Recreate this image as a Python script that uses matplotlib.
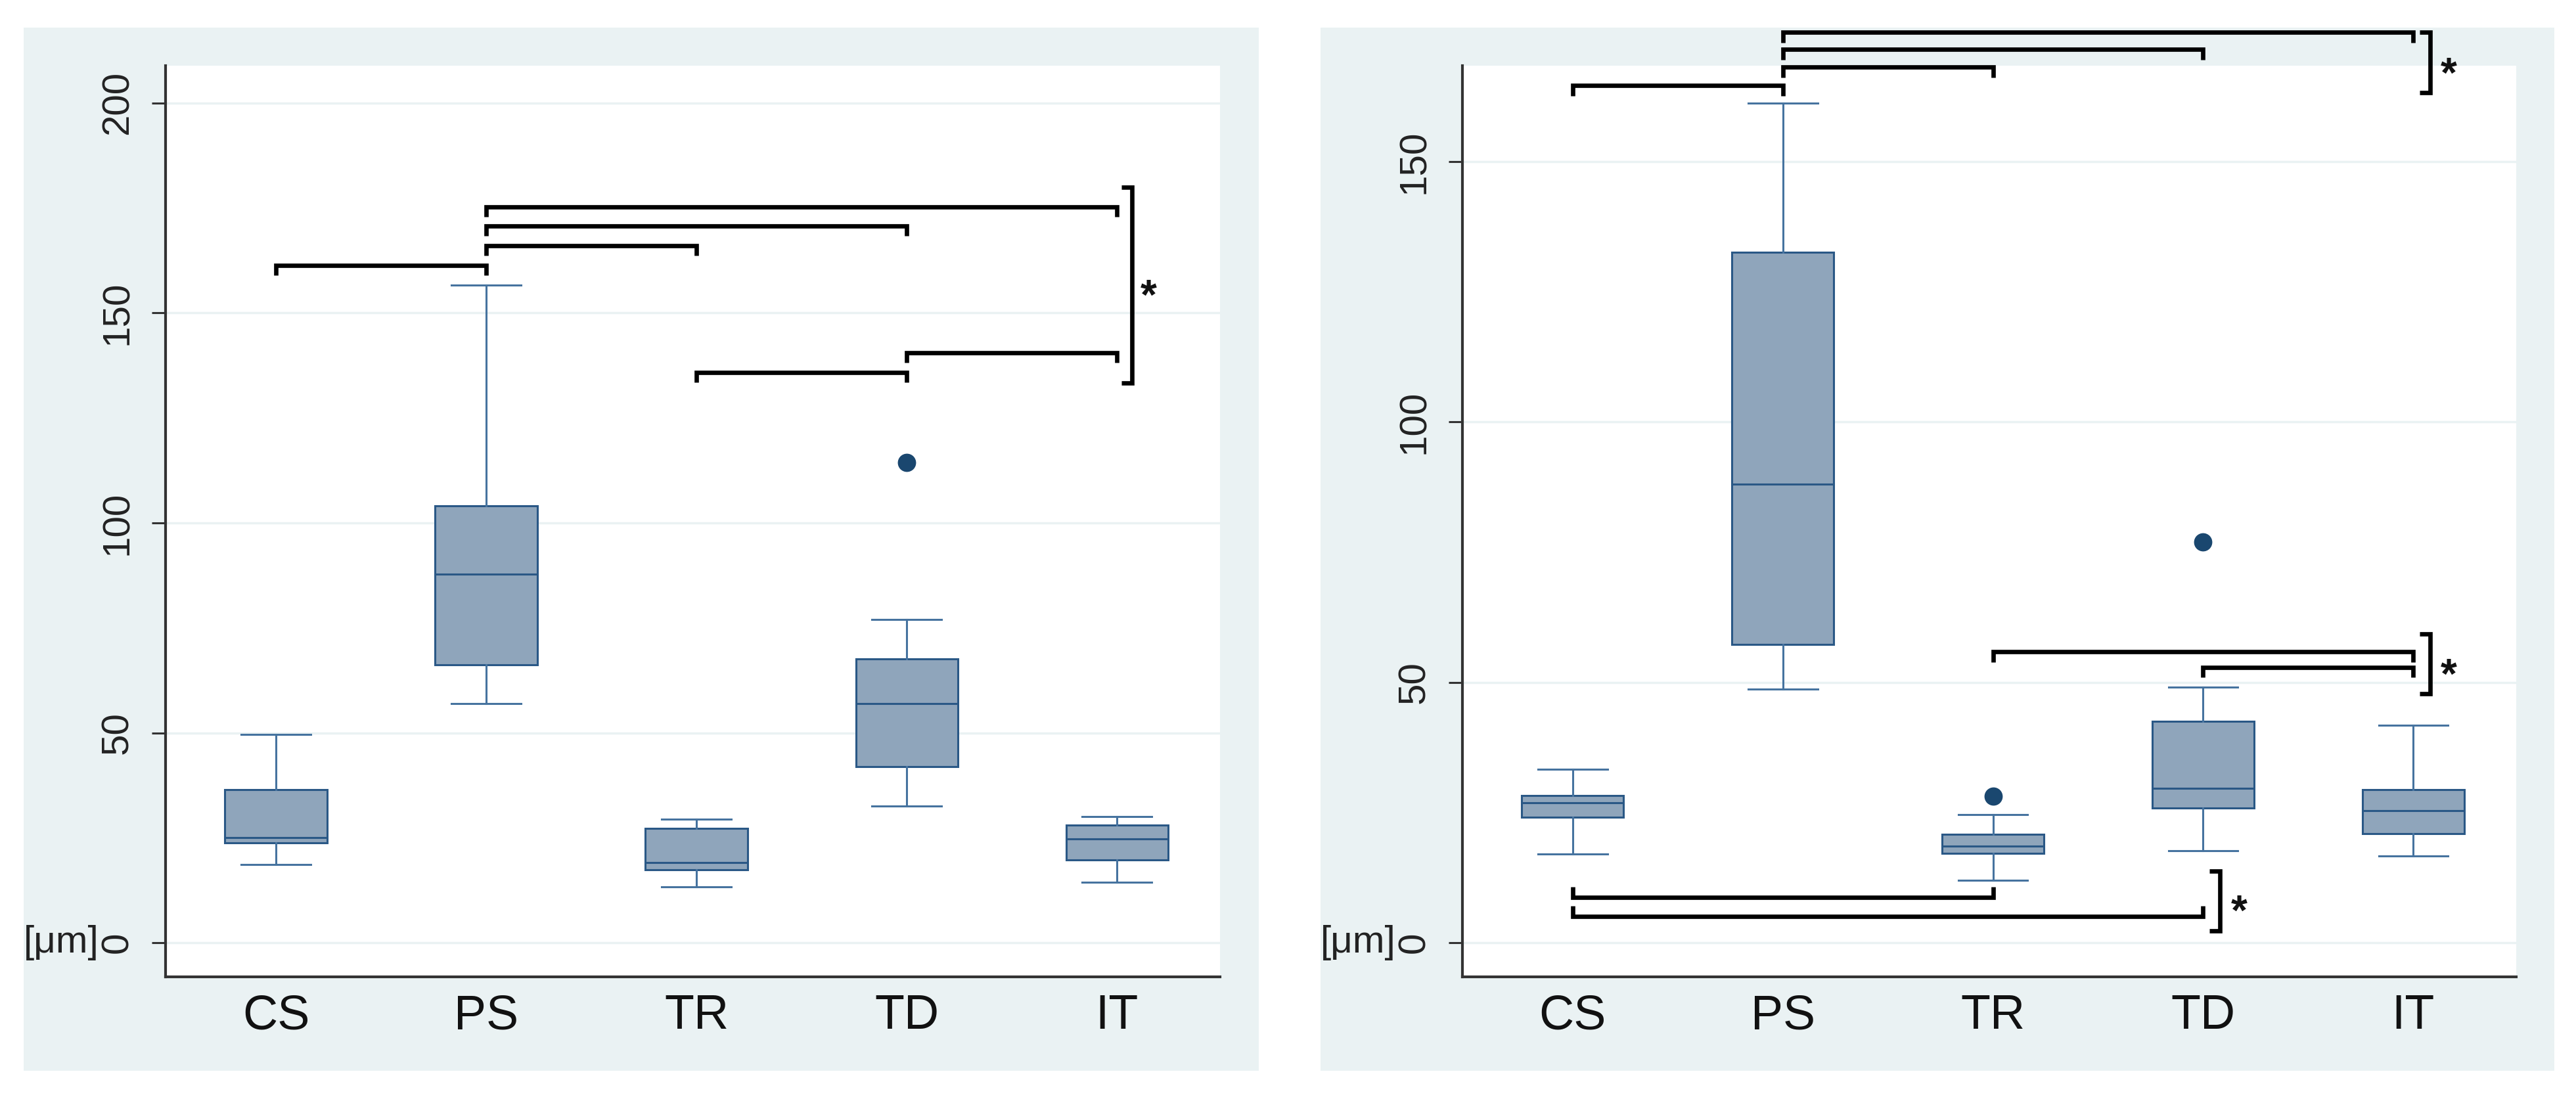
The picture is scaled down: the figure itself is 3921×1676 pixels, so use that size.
import matplotlib
matplotlib.use("Agg")
import matplotlib.pyplot as plt
from matplotlib.patches import Rectangle
import matplotlib.transforms as mtransforms

plt.rcParams['font.family'] = ['Liberation Sans', 'DejaVu Sans']

# ---------------- data ----------------
groups = ["CS", "PS", "TR", "TD", "IT"]

left_whislo = [18.6, 57.0, 13.4, 32.5, 14.4]
left_q1     = [23.8, 66.2, 17.4, 41.9, 19.8]
left_med    = [25.1, 87.8, 19.1, 57.0, 24.8]
left_q3     = [36.5, 104.0, 27.3, 67.7, 28.0]
left_whishi = [49.6, 156.6, 29.5, 77.0, 30.0]
left_fliers = [[], [], [], [114.4], []]

right_whislo = [17.0, 48.7, 12.0, 17.6, 16.7]
right_q1     = [24.1, 57.2, 17.1, 25.8, 20.9]
right_med    = [26.8, 88.0, 18.5, 29.6, 25.4]
right_q3     = [28.3, 132.6, 20.8, 42.5, 29.4]
right_whishi = [33.3, 161.2, 24.6, 49.1, 41.7]
right_fliers = [[], [], [28.1], [77.0], []]

left_yticks = [0, 50, 100, 150, 200]
right_yticks = [0, 50, 100, 150]

# significance brackets: (group_i, group_j, height)
left_pairs = [(1, 2, 161.3), (2, 3, 166.0), (2, 4, 170.7), (2, 5, 175.2),
              (3, 4, 135.8), (4, 5, 140.5)]
left_groupbar = [(5.07, 133.3, 180.0, 5.15)]   # x, y_low, y_high, star x

right_pairs_top = [(1, 2, 164.6), (2, 3, 168.1), (2, 4, 171.5), (2, 5, 174.8),
                   (3, 5, 55.9), (4, 5, 52.9)]
right_pairs_bottom = [(1, 3, 8.7), (1, 4, 5.0)]
right_groupbar = [(5.08, 163.2, 174.8, 5.17), (5.08, 47.8, 59.3, 5.17),
                  (4.08, 2.3, 13.8, 4.17)]

# ---------------- style ----------------
W, H = 3921, 1676
DPI = 100
BG = '#eaf2f3'
FILL = '#8fa5bb'
EDGE = '#2a5886'
WHISK = '#46739f'
OUT = '#1a476f'

fig = plt.figure(figsize=(W / DPI, H / DPI), dpi=DPI, facecolor='white')

def px_rect(x0, y0, x1, y1):
    return [x0 / W, 1 - y1 / H, (x1 - x0) / W, (y1 - y0) / H]

# panel backgrounds
for (x0, x1) in [(36, 1916), (2010, 3888)]:
    r = px_rect(x0, 42, x1, 1630)
    fig.patches.append(Rectangle((r[0], r[1]), r[2], r[3], transform=fig.transFigure,
                                 facecolor=BG, edgecolor='none', zorder=-10))

axL = fig.add_axes(px_rect(252, 100, 1857, 1487))
axR = fig.add_axes(px_rect(2226, 100, 3830, 1487))


def make_stats(lo, q1, med, q3, hi, fl):
    stats = []
    for i in range(len(groups)):
        stats.append(dict(label=groups[i], whislo=lo[i], q1=q1[i], med=med[i],
                          q3=q3[i], whishi=hi[i], fliers=fl[i]))
    return stats


def draw_panel(ax, stats, ylim, yticks):
    ax.set_facecolor('white')
    ax.bxp(stats, positions=range(1, len(groups) + 1), widths=0.485,
           patch_artist=True, showfliers=True,
           boxprops=dict(facecolor=FILL, edgecolor=EDGE, linewidth=2.2),
           medianprops=dict(color=EDGE, linewidth=2.2),
           whiskerprops=dict(color=WHISK, linewidth=2.2),
           capprops=dict(color=WHISK, linewidth=2.2),
           capwidths=0.33,
           flierprops=dict(marker='o', markerfacecolor=OUT, markeredgecolor=OUT,
                           markersize=19, linestyle='none'))
    ax.set_xlim(0.475, 5.49)
    ax.set_ylim(*ylim)
    ax.set_yticks(yticks)
    ax.set_yticklabels([str(t) for t in yticks])
    ax.set_xticks(range(1, len(groups) + 1))
    ax.set_xticklabels(groups)
    ax.yaxis.grid(True, color=BG, linewidth=2.5)
    ax.set_axisbelow(True)
    for s in ['top', 'right']:
        ax.spines[s].set_visible(False)
    for s in ['left', 'bottom']:
        ax.spines[s].set_color('#333333')
        ax.spines[s].set_linewidth(3.0)
    ax.tick_params(axis='y', length=15, width=2.2, color='#333333', pad=18,
                   labelsize=42, labelcolor='#222222', labelrotation=90)
    for lab in ax.get_yticklabels():
        lab.set_va('center')
    ax.tick_params(axis='x', length=0, pad=18, labelsize=53, labelcolor='#111111')
    # unit label
    trans = mtransforms.blended_transform_factory(ax.transAxes, ax.transData)
    ax.text(-0.063, 0, '[μm]', transform=trans, ha='right', va='center',
            fontsize=42, color='#222222')


def bracket(ax, x1, x2, y, leg):
    ax.plot([x1, x1, x2, x2], [y - leg, y, y, y - leg], color='black', lw=4.8,
            solid_joinstyle='miter', solid_capstyle='butt', clip_on=False, zorder=5)


def groupbar(ax, x, ylo, yhi, xs, tick=0.05):
    ax.plot([x - tick, x, x, x - tick], [yhi, yhi, ylo, ylo], color='black', lw=4.8,
            solid_joinstyle='miter', solid_capstyle='butt', clip_on=False, zorder=5)
    fs = 46
    off = mtransforms.offset_copy(ax.transData, fig=fig, x=0, y=-0.58 * fs, units='points')
    ax.text(xs, (ylo + yhi) / 2, '*', transform=off, ha='center', va='baseline',
            fontsize=fs, fontweight='bold', color='#111111', clip_on=False)


draw_panel(axL, make_stats(left_whislo, left_q1, left_med, left_q3, left_whishi, left_fliers),
           (-8.1, 208.9), left_yticks)
draw_panel(axR, make_stats(right_whislo, right_q1, right_med, right_q3, right_whishi, right_fliers),
           (-6.57, 168.4), right_yticks)

for (a, b, y) in left_pairs:
    bracket(axL, a, b, y, 2.3)
for g in left_groupbar:
    groupbar(axL, *g)

for (a, b, y) in right_pairs_top:
    bracket(axR, a, b, y, 2.0)
for (a, b, y) in right_pairs_bottom:
    bracket(axR, a, b, y, -2.0)
for g in right_groupbar:
    groupbar(axR, *g)

fig.savefig('out.png', dpi=DPI, facecolor='white')
